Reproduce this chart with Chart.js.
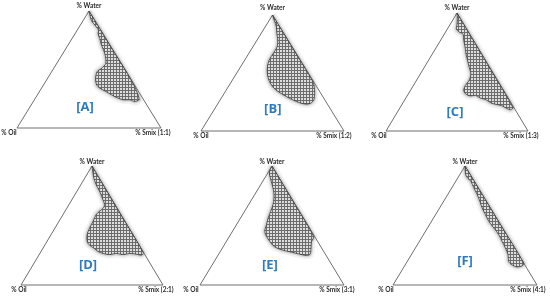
<!DOCTYPE html>
<html lang="en">
<head>
<meta charset="UTF-8">
<title>Pseudo-ternary phase diagrams</title>
<style>
  body {
    margin: 0;
    width: 550px;
    height: 297px;
    overflow: hidden;
    position: relative;
    background: #fff;
  }
  canvas { position: absolute; }
</style>
<script src="https://cdn.jsdelivr.net/npm/chart.js"></script>
</head>
<body>
<script>
// vertex labels
const waterLabel = '% Water';
const oilLabel = '% Oil';
const smixLabels = ['% Smix (1:1)', '% Smix (1:2)', '% Smix (1:3)', '% Smix (2:1)', '% Smix (3:1)', '% Smix (4:1)'];
const panelTags = ['[A]', '[B]', '[C]', '[D]', '[E]', '[F]'];

// triangle corners as (water %, oil %): Oil, Smix, Water, Oil
const triWater = [0, 0, 100, 0];
const triOil = [100, 0, 0, 100];

// boundary of the nanoemulsion region, traced as water % / oil % (Smix = rest)
const waterA = [100, 92.1, 86.4, 83.6, 80.7, 76.5, 70.8, 63.7, 55.2, 51.0, 48.2, 42.5, 36.8, 34.0, 31.2, 28.3, 26.1, 24.1, 24.1, 22.7, 24.6, 40, 70, 100];
const oilA   = [0, 2.3, 1.7, 1.5, 3.3, 4.3, 5.9, 7.2, 10.7, 15.8, 20.2, 24.2, 26.3, 25.4, 22.6, 20.1, 17.8, 14.1, 9.5, 6.8, 2.8, 0.3, 0.2, 0];

const waterB = [100, 95.7, 89.9, 84.1, 78.4, 72.6, 66.9, 61.1, 55.3, 49.6, 43.8, 38.0, 33.7, 29.4, 26.5, 24.2, 23.1, 24.2, 27.1, 32.3, 39.5, 45.2, 70, 100];
const oilB   = [0, 1.0, 2.4, 4.9, 7.1, 10.5, 16.0, 21.8, 25.9, 28.8, 30.6, 30.8, 28.8, 25.2, 22.0, 18.5, 14.5, 10.9, 7.5, 4.4, 1.2, 0.3, 0.2, 0];

const waterC = [100, 96.6, 90.7, 86.4, 83.6, 82.2, 76.6, 70.9, 65.3, 59.6, 54.0, 48.3, 42.7, 38.7, 34.5, 31.6, 29.7, 30.2, 28.0, 26.6, 23.7, 22.6, 21.5, 19.2, 18.1, 19.8, 50, 100];
const oilC   = [0, 1.5, 4.6, 7.2, 6.3, 4.7, 6.9, 8.8, 11.0, 12.7, 14.4, 16.1, 20.2, 24.7, 28.0, 28.3, 25.8, 22.0, 19.6, 16.4, 14.1, 11.2, 7.8, 5.4, 3.2, 0.7, 0.2, 0];

const waterD = [100, 95.8, 90.1, 84.5, 78.9, 73.2, 67.6, 64.8, 62.0, 59.2, 53.5, 47.9, 42.3, 36.6, 33.8, 31.0, 28.2, 26.5, 25.6, 26.5, 25.6, 26.5, 25.9, 25.1, 26.8, 60, 100];
const oilD   = [0, 1.6, 3.7, 4.9, 5.3, 6.2, 7.4, 9.5, 13.7, 17.4, 22.5, 27.7, 32.3, 35.1, 35.1, 33.2, 31.6, 28.9, 24.7, 19.6, 15.3, 10.2, 5.8, 2.8, 0.3, 0.2, 0];

const waterE = [100, 98.6, 94.4, 90.1, 84.5, 78.9, 73.2, 67.6, 62.0, 56.3, 50.7, 45.1, 40.8, 36.6, 32.4, 29.6, 27.6, 25.9, 24.8, 25.9, 31.0, 36.1, 40.6, 70, 100];
const oilE   = [0, 1.4, 4.7, 6.1, 7.7, 9.4, 12.0, 15.5, 19.9, 24.5, 28.5, 32.5, 33.4, 33.2, 32.3, 28.6, 22.7, 17.8, 13.7, 10.6, 7.4, 4.6, 0.8, 0.2, 0];

const waterF = [100, 98.0, 92.9, 90.1, 87.3, 81.7, 76.1, 70.4, 64.8, 59.2, 53.5, 47.9, 42.3, 36.6, 31.0, 25.4, 19.7, 16.9, 15.2, 16.1, 18.3, 50, 100];
const oilF   = [0, 1.0, 3.1, 3.3, 2.4, 3.0, 3.5, 4.5, 5.7, 6.2, 6.7, 6.0, 5.4, 5.9, 6.4, 7.4, 9.8, 8.9, 6.3, 2.3, 0, 0, 0];

const regionWater = [waterA, waterB, waterC, waterD, waterE, waterF];
const regionOil = [oilA, oilB, oilC, oilD, oilE, oilF];

// page layout: triangle box in px, tag spot (chart units) and label nudges
const boxes = [
  { left: 17,  top: 11,  w: 144, h: 117, tagX: 47.2, tagY: 18.1, oilDx: -8, smixDx: -8, waterDy: -5 },
  { left: 201, top: 15,  w: 143, h: 116, tagX: 50.2, tagY: 19.0, oilDx: 0,  smixDx: -10, waterDy: -7 },
  { left: 386, top: 13,  w: 142, h: 118, tagX: 48.6, tagY: 15.8, oilDx: -7, smixDx: -7, waterDy: -5 },
  { left: 21,  top: 166, w: 142, h: 119, tagX: 47.2, tagY: 16.9, oilDx: -2, smixDx: -7, waterDy: -4 },
  { left: 200, top: 166, w: 144, h: 119, tagX: 48.5, tagY: 16.9, oilDx: -9, smixDx: -7, waterDy: -4 },
  { left: 393, top: 166, w: 144, h: 119, tagX: 50.0, tagY: 20.0, oilDx: -7, smixDx: -9, waterDy: -4 }
];
const PAD = { left: 18, right: 14, top: 11, bottom: 11 };

// ternary (water, oil) -> chart x/y, y is water %
function toXY(water, oil) {
  return water.map((w, i) => ({ x: 100 - oil[i] - w / 2, y: w }));
}

// mesh fill: gray grid with light cells
function makeHatch() {
  const c = document.createElement('canvas');
  c.width = 3; c.height = 3;
  const g = c.getContext('2d');
  g.fillStyle = '#6c6c6c';
  g.fillRect(0, 0, 3, 3);
  g.fillStyle = '#dedede';
  g.fillRect(1, 1, 2, 2);
  return g.createPattern(c, 'repeat');
}
const hatch = makeHatch();

const triLabels = {
  id: 'triLabels',
  afterDraw(chart, args, opts) {
    const { ctx } = chart;
    const x = chart.scales.x, y = chart.scales.y;
    ctx.save();
    ctx.textAlign = 'center';
    ctx.textBaseline = 'middle';
    ctx.fillStyle = '#2b2b2b';
    ctx.font = 'bold 6.5px Lato, sans-serif';
    ctx.fillText(waterLabel, x.getPixelForValue(50), y.getPixelForValue(100) + opts.waterDy);
    ctx.fillText(oilLabel, x.getPixelForValue(0) + opts.oilDx, y.getPixelForValue(0) + 5);
    ctx.fillText(opts.smix, x.getPixelForValue(100) + opts.smixDx, y.getPixelForValue(0) + 5);
    ctx.fillStyle = '#2e7bbf';
    ctx.font = 'bold 13px "Open Sans", sans-serif';
    ctx.fillText(opts.tag, x.getPixelForValue(opts.tagX), y.getPixelForValue(opts.tagY));
    ctx.restore();
  }
};

boxes.forEach((b, i) => {
  const cv = document.createElement('canvas');
  const cw = b.w + PAD.left + PAD.right;
  const ch = b.h + PAD.top + PAD.bottom;
  cv.width = cw; cv.height = ch;
  cv.style.left = (b.left - PAD.left) + 'px';
  cv.style.top = (b.top - PAD.top) + 'px';
  cv.style.width = cw + 'px';
  cv.style.height = ch + 'px';
  document.body.appendChild(cv);

  const region = toXY(regionWater[i], regionOil[i]);
  region.push(region[0]);

  new Chart(cv, {
    type: 'scatter',
    data: {
      datasets: [
        {
          // region
          data: region,
          showLine: true,
          tension: 0.3,
          fill: 'shape',
          backgroundColor: hatch,
          borderColor: '#3a3a3a',
          borderWidth: 0.8,
          pointRadius: 0,
          clip: false,
          order: 0
        },
        {
          // triangle
          data: toXY(triWater, triOil),
          showLine: true,
          tension: 0,
          fill: false,
          borderColor: '#6e6e6e',
          borderWidth: 1,
          pointRadius: 0,
          clip: false,
          order: 1
        },
        {
          // soft shadow
          data: region,
          showLine: true,
          tension: 0.3,
          fill: false,
          borderColor: 'rgba(0,0,0,0.12)',
          borderWidth: 4,
          borderJoinStyle: 'round',
          pointRadius: 0,
          clip: false,
          order: 2
        },
        {
          data: region,
          showLine: true,
          tension: 0.3,
          fill: false,
          borderColor: 'rgba(0,0,0,0.05)',
          borderWidth: 8,
          borderJoinStyle: 'round',
          pointRadius: 0,
          clip: false,
          order: 3
        }
      ]
    },
    options: {
      responsive: false,
      animation: false,
      events: [],
      layout: { padding: PAD },
      scales: {
        x: { type: 'linear', min: 0, max: 100, display: false },
        y: { type: 'linear', min: 0, max: 100, display: false }
      },
      plugins: {
        legend: { display: false },
        tooltip: { enabled: false },
        triLabels: {
          smix: smixLabels[i],
          tag: panelTags[i],
          tagX: b.tagX,
          tagY: b.tagY,
          oilDx: b.oilDx,
          smixDx: b.smixDx,
          waterDy: b.waterDy
        }
      }
    },
    plugins: [triLabels]
  });
});
</script>
</body>
</html>
